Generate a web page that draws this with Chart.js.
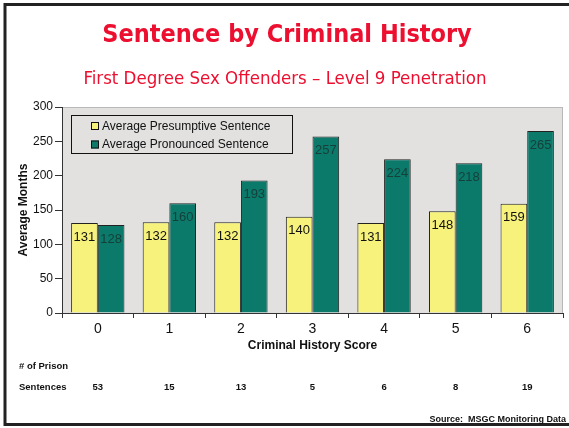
<!DOCTYPE html>
<html>
<head>
<meta charset="utf-8">
<script src="https://cdn.jsdelivr.net/npm/chart.js@4"></script>
<style>
  html, body { margin: 0; padding: 0; background: #fff; overflow: hidden; }
  #wrap { width: 569px; height: 428px; position: relative; }
  canvas { display: block; }
</style>
</head>
<body>
<div id="wrap"><canvas id="chart" width="569" height="428"></canvas></div>
<script>
// ── Data ────────────────────────────────────────────────────────────────
const scores      = ['0', '1', '2', '3', '4', '5', '6'];
const presumptive = [131, 132, 132, 140, 131, 148, 159];
const pronounced  = [128, 160, 193, 257, 224, 218, 265];
const prisonCount = [53, 15, 13, 5, 6, 8, 19];

const TITLE    = 'Sentence by Criminal History';
const SUBTITLE = 'First Degree Sex Offenders \u2013 Level 9 Penetration';
const SOURCE   = 'Source:  MSGC Monitoring Data';

// ── Colours ─────────────────────────────────────────────────────────────
const YELLOW  = '#f7f27c';
const TEAL    = '#0b7a6b';
const RED     = '#ec0f2f';
const AXIS    = '#333';
const PLOT_BG = '#e2e1e0';
const FONT    = '"Liberation Sans", Arial, sans-serif';
const TFONT   = '"DejaVu Sans Condensed", "DejaVu Sans", sans-serif';

// ── Plugins ─────────────────────────────────────────────────────────────
const decor = {
  id: 'decor',
  beforeDraw(chart) {
    const { ctx, chartArea: a } = chart;
    ctx.save();
    ctx.fillStyle = '#fff';
    ctx.fillRect(0, 0, chart.width, chart.height);
    // frame (open to the right, as in the slide crop)
    ctx.strokeStyle = '#222';
    ctx.lineWidth = 3;
    ctx.strokeRect(5, 4.5, chart.width + 10, 420);
    // plot area
    ctx.fillStyle = PLOT_BG;
    ctx.fillRect(a.left, a.top, a.right - a.left, a.bottom - a.top);
    ctx.strokeStyle = '#b8b8b8';
    ctx.lineWidth = 1;
    ctx.strokeRect(a.left + 0.5, a.top + 0.5, a.right - a.left - 1, a.bottom - a.top);
    // titles
    ctx.fillStyle = RED;
    ctx.textAlign = 'center';
    ctx.textBaseline = 'alphabetic';
    ctx.font = 'bold 25px ' + TFONT;
    ctx.fillText(TITLE, 287, 42);
    ctx.font = '18.5px ' + TFONT;
    ctx.fillText(SUBTITLE, 285, 84);
    ctx.restore();
  },
  afterDraw(chart) {
    const { ctx } = chart;
    const x = chart.scales.x;
    ctx.save();
    // legend
    ctx.fillStyle = PLOT_BG;
    ctx.fillRect(71, 115, 221, 38);
    ctx.strokeStyle = '#111';
    ctx.lineWidth = 1;
    ctx.strokeRect(71.5, 115.5, 221, 38);
    ctx.font = '12px ' + FONT;
    ctx.textAlign = 'left';
    ctx.textBaseline = 'middle';
    chart.data.datasets.forEach((ds, i) => {
      const cy = 126 + i * 18.5;
      ctx.fillStyle = ds.backgroundColor;
      ctx.fillRect(91, cy - 4, 8, 8);
      ctx.strokeStyle = '#111';
      ctx.strokeRect(91.5, cy - 3.5, 7, 7);
      ctx.fillStyle = '#111';
      ctx.fillText(ds.label, 102, cy + 0.5);
    });
    // value labels
    chart.data.datasets.forEach((ds, i) => {
      ctx.font = '13px ' + FONT;
      ctx.fillStyle = i === 0 ? '#111' : '#15403a';
      ctx.textAlign = 'center';
      chart.getDatasetMeta(i).data.forEach((bar, j) => {
        ctx.fillText(String(ds.data[j]), bar.x, bar.y + 14);
      });
    });
    // prison sentence counts
    ctx.fillStyle = '#111';
    ctx.font = 'bold 9.5px ' + FONT;
    ctx.textAlign = 'left';
    ctx.fillText('# of Prison', 19, 366);
    ctx.fillText('Sentences', 19, 387);
    ctx.textAlign = 'center';
    prisonCount.forEach((n, j) => ctx.fillText(String(n), x.getPixelForValue(j), 387));
    ctx.textAlign = 'right';
    ctx.font = 'bold 9px ' + FONT;
    ctx.fillText(SOURCE, 566, 420);
    ctx.restore();
  }
};

// ── Chart ───────────────────────────────────────────────────────────────
new Chart(document.getElementById('chart'), {
  type: 'bar',
  data: {
    labels: scores,
    datasets: [
      { label: 'Average Presumptive Sentence', data: presumptive, backgroundColor: YELLOW,
        borderColor: '#222', borderWidth: 1 },
      { label: 'Average Pronounced Sentence', data: pronounced, backgroundColor: TEAL,
        borderColor: '#222', borderWidth: 1 },
    ]
  },
  options: {
    responsive: false,
    animation: false,
    layout: { padding: { left: 4, right: 6, top: 107, bottom: 75 } },
    datasets: { bar: { categoryPercentage: 0.745, barPercentage: 1 } },
    plugins: { legend: { display: false }, tooltip: { enabled: false }, title: { display: false } },
    scales: {
      x: {
        grid: { display: true, drawOnChartArea: false, drawTicks: true, tickLength: 5, color: AXIS, offset: true },
        border: { color: AXIS, width: 1 },
        ticks: { color: '#111', font: { family: FONT, size: 14 }, padding: 3 },
        title: { display: true, text: 'Criminal History Score', color: '#111',
                 font: { family: FONT, size: 12, weight: 'bold' }, padding: { top: 2, bottom: 0 } },
        afterFit: s => { s.height = 40; }
      },
      y: {
        min: 0, max: 300,
        grid: { display: true, drawOnChartArea: false, drawTicks: true, tickLength: 7, color: AXIS },
        border: { color: AXIS, width: 1 },
        ticks: { stepSize: 50, color: '#111', font: { family: FONT, size: 12 }, padding: 2 },
        title: { display: true, text: 'Average Months', color: '#111',
                 font: { family: FONT, size: 12, weight: 'bold' }, padding: { top: 12, bottom: 0 } },
        afterFit: s => { s.width = 58; }
      }
    }
  },
  plugins: [decor]
});
</script>
</body>
</html>
